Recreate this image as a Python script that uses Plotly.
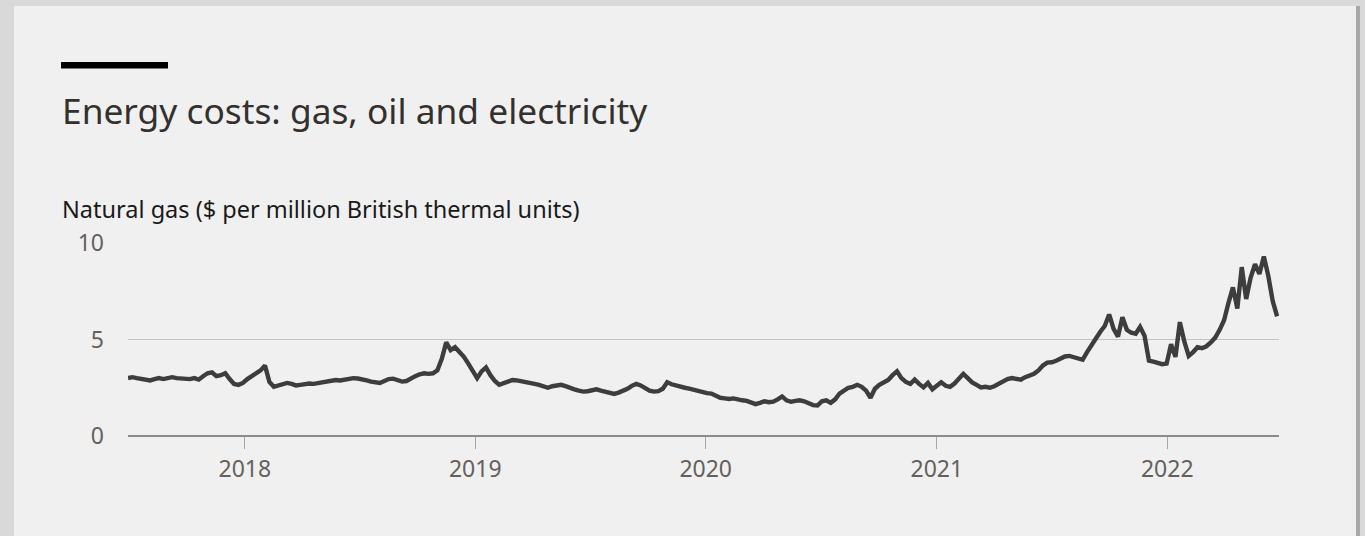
import pandas as pd
import plotly.graph_objects as go

title_text = "Energy costs: gas, oil and electricity"
subtitle_text = "Natural gas ($ per million British thermal units)"
start_date = "2017-06-30"
x_range = ["2017-06-30", "2022-06-27"]
y_ticks = [0, 5, 10]
x_tick_years = ["2018-01-01", "2019-01-01", "2020-01-01", "2021-01-01", "2022-01-01"]
x_tick_labels = ["2018", "2019", "2020", "2021", "2022"]

gas_price = [
    3.0, 3.05, 3.0, 2.95, 2.9, 2.88, 2.95, 3.0, 2.95, 3.0,
    3.05, 3.0, 2.98, 2.95, 2.95, 3.0, 2.92, 3.1, 3.25, 3.3,
    3.1, 3.15, 3.25, 2.95, 2.7, 2.65, 2.75, 2.95, 3.1, 3.25,
    3.4, 3.65, 2.8, 2.55, 2.62, 2.7, 2.75, 2.7, 2.62, 2.65,
    2.7, 2.72, 2.7, 2.75, 2.78, 2.8, 2.85, 2.9, 2.88, 2.92,
    2.95, 3.0, 2.98, 2.95, 2.88, 2.82, 2.78, 2.75, 2.85, 2.95,
    2.97, 2.9, 2.82, 2.85, 3.0, 3.1, 3.2, 3.25, 3.22, 3.25,
    3.4, 4.0, 4.85, 4.45, 4.6, 4.35, 4.1, 3.75, 3.35, 3.0,
    3.35, 3.55, 3.15, 2.85, 2.65, 2.72, 2.85, 2.9, 2.88, 2.82,
    2.78, 2.75, 2.7, 2.65, 2.55, 2.5, 2.58, 2.62, 2.65, 2.58,
    2.48, 2.42, 2.35, 2.3, 2.32, 2.38, 2.42, 2.35, 2.28, 2.2,
    2.18, 2.25, 2.32, 2.45, 2.6, 2.7, 2.62, 2.5, 2.35, 2.3,
    2.32, 2.45, 2.78, 2.68, 2.6, 2.55, 2.5, 2.45, 2.38, 2.35,
    2.28, 2.22, 2.2, 2.1, 1.98, 1.95, 1.92, 1.95, 1.88, 1.85,
    1.82, 1.75, 1.65, 1.72, 1.8, 1.75, 1.78, 1.9, 2.05, 1.85,
    1.77, 1.82, 1.85, 1.8, 1.68, 1.6, 1.58, 1.8, 1.85, 1.72,
    1.9, 2.2, 2.35, 2.5, 2.55, 2.65, 2.55, 2.35, 1.98, 2.45,
    2.65, 2.78, 2.9, 3.15, 3.35, 3.0, 2.8, 2.7, 2.92, 2.7,
    2.52, 2.75, 2.42, 2.6, 2.78, 2.6, 2.55, 2.72, 2.95, 3.22,
    3.0, 2.78, 2.65, 2.52, 2.55, 2.5, 2.58, 2.7, 2.78, 2.95,
    3.0, 2.98, 2.92, 3.05, 3.15, 3.22, 3.4, 3.65, 3.8, 3.82,
    3.9, 4.0, 4.12, 4.15, 4.08, 4.0, 3.95, 4.35, 4.75, 5.05,
    5.4, 5.7, 6.3, 5.55, 5.15, 6.15, 5.5, 5.35, 5.3, 5.65,
    5.2, 3.9, 3.85, 3.8, 3.72, 3.75, 4.75, 4.1, 5.9, 4.9,
    4.15, 4.35, 4.6, 4.55, 4.65, 4.85, 5.1, 5.5, 6.0, 6.9,
    7.7, 6.6, 8.75, 7.1, 8.2, 8.9, 8.4, 9.3, 8.3, 7.0,
    6.2,
]

dates = pd.date_range(start=start_date, periods=len(gas_price), freq="7D")

W, H = 1365, 536
L, R, T, B = 128, 1279, 243, 436
pw, ph = R - L, B - T

def px(x):
    return (x - L) / pw

def py(y):
    return (B - y) / ph

fig = go.Figure()
fig.add_trace(go.Scatter(
    x=dates, y=gas_price, mode="lines",
    line=dict(color="#3d3d3d", width=4.4),
    hoverinfo="skip", showlegend=False,
))

FONT = "Noto Sans"
shapes = [
    dict(type="rect", xref="paper", yref="paper", x0=px(14), x1=px(1356), y0=py(6), y1=py(545),
         fillcolor="#f0f0f0", line=dict(width=0), layer="below"),
    dict(type="rect", xref="paper", yref="paper", x0=px(1356), x1=px(1360), y0=py(6), y1=py(545),
         fillcolor="#a9a9a9", line=dict(width=0), layer="below"),
    dict(type="rect", xref="paper", yref="paper", x0=px(61), x1=px(168), y0=py(62), y1=py(68.5),
         fillcolor="#000000", line=dict(width=0)),
]

annotations = [
    dict(text=title_text, xref="paper", yref="paper", x=px(60), y=py(110), xanchor="left", yanchor="middle",
         showarrow=False, font=dict(family=FONT, size=35.3, color="#33302e")),
    dict(text=subtitle_text, xref="paper", yref="paper", x=px(60), y=py(209), xanchor="left", yanchor="middle",
         showarrow=False, font=dict(family=FONT, size=23.5, color="#1a1a1a")),
]

fig.update_layout(
    width=W, height=H,
    margin=dict(l=L, r=W - R, t=T, b=H - B, pad=0),
    paper_bgcolor="#d9d9d9",
    plot_bgcolor="rgba(0,0,0,0)",
    shapes=shapes,
    annotations=annotations,
    xaxis=dict(
        type="date", range=x_range,
        tickvals=x_tick_years, ticktext=x_tick_labels,
        showgrid=False, zeroline=False, showline=False,
        ticks="outside", ticklen=12, tickwidth=1.2, tickcolor="#a8a8a8",
        ticklabelstandoff=0,
        tickfont=dict(family=FONT, size=23, color="#66605c"),
        fixedrange=True,
    ),
    yaxis=dict(
        range=[0, 10], tickvals=y_ticks,
        showgrid=True, gridcolor="#c4c4c4", gridwidth=1.3,
        zeroline=True, zerolinecolor="#8c8c8c", zerolinewidth=2.2,
        showline=False, ticks="", ticklabelstandoff=23,
        tickfont=dict(family=FONT, size=23, color="#66605c"),
        fixedrange=True,
    ),
    font=dict(family=FONT),
)

fig.write_html("out.html")
